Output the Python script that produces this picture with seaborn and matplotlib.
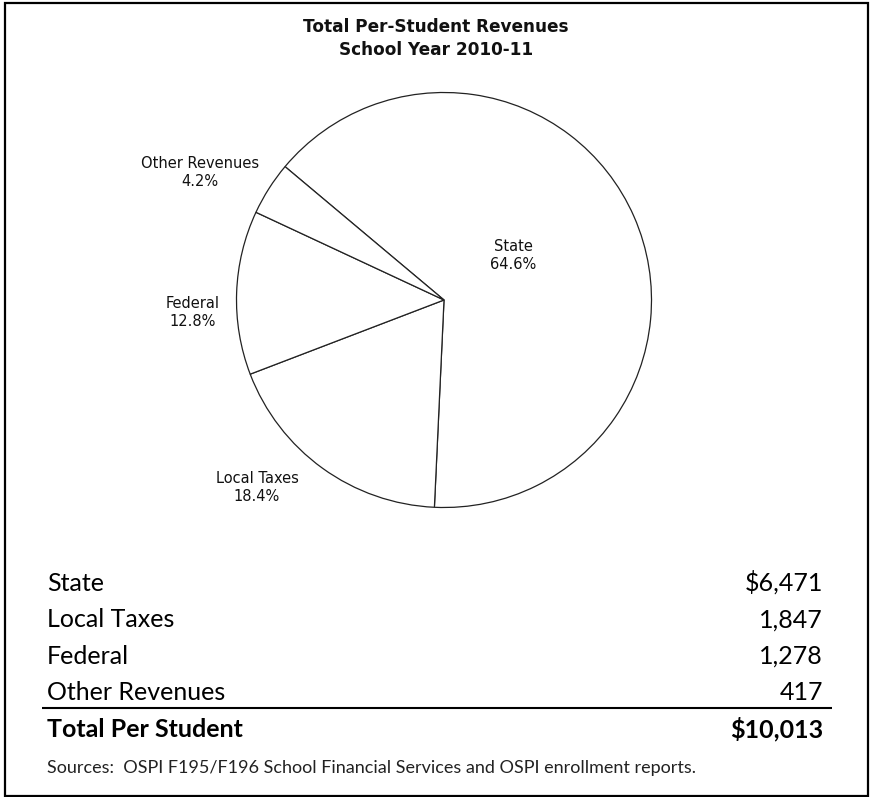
import matplotlib
matplotlib.use('Agg')
import matplotlib.pyplot as plt
import seaborn as sns
from matplotlib.patches import Rectangle

# estilo base de seaborn, fondo blanco sin rejilla
sns.set_theme(style='white')

# datos del grafico
categories = ['State', 'Local Taxes', 'Federal', 'Other Revenues']
per_student = [6471, 1847, 1278, 417]
chart_title = ['Total Per-Student Revenues', 'School Year 2010-11']
total_label = 'Total Per Student'
source_note = 'Sources:  OSPI F195/F196 School Financial Services and OSPI enrollment reports.'

total = sum(per_student)

# tamaño en pixeles, el eje cubre toda la figura y trabaja en pixeles
W, H = 871, 797
fig = plt.figure(figsize=(W / 100, H / 100), dpi=100)
ax = fig.add_axes([0, 0, 1, 1])

wedges, _ = ax.pie(per_student, center=(444, H - 300), radius=207.5,
                   startangle=140, counterclock=False,
                   colors=['white'] * len(per_student),
                   wedgeprops=dict(edgecolor='#222222', linewidth=0.9))
ax.set_xlim(0, W)
ax.set_ylim(0, H)
ax.set_aspect('auto')
ax.axis('off')

# etiquetas del pastel (posicion de cada texto, en pixeles desde arriba)
label_pos = {'State': (513, 255), 'Local Taxes': (257, 487),
             'Federal': (193, 312), 'Other Revenues': (200, 172)}
for cat, v in zip(categories, per_student):
    x, y = label_pos[cat]
    ax.text(x, H - y, '{0}\n{1:.1f}%'.format(cat, v / total * 100),
            ha='center', va='center', fontsize=10.5, color='#111111',
            family='DejaVu Sans', linespacing=1.25)

# titulo
for i, line in enumerate(chart_title):
    ax.text(436, H - (32 + i * 23), line, ha='center', va='baseline',
            fontsize=12.2, fontweight='bold', family='DejaVu Sans',
            color='#111111')

# tabla inferior
for i, (cat, v) in enumerate(zip(categories, per_student)):
    yb = H - (591 + i * 36.4)
    val = '${:,}'.format(v) if i == 0 else '{:,}'.format(v)
    ax.text(47, yb, cat, ha='left', va='baseline', fontsize=18,
            family='Lato', color='black')
    ax.text(823, yb, val, ha='right', va='baseline', fontsize=18,
            family='Lato', color='black')

ax.plot([42, 832], [H - 708, H - 708], color='black', lw=1.5,
        solid_capstyle='butt')
ax.text(47, H - 737, total_label, ha='left', va='baseline', fontsize=18,
        fontweight='bold', family='Lato', color='black')
ax.text(823, H - 737, '${:,}'.format(total), ha='right', va='baseline',
        fontsize=18, fontweight='bold', family='Lato', color='black')
ax.text(47, H - 773, source_note, ha='left', va='baseline', fontsize=13,
        family='Lato', color='#222222')

# marco exterior
ax.add_patch(Rectangle((5, H - 796), 863, 793, fill=False,
                       edgecolor='black', lw=1.6, clip_on=False))

fig.savefig('out.png', dpi=100, facecolor='white')
